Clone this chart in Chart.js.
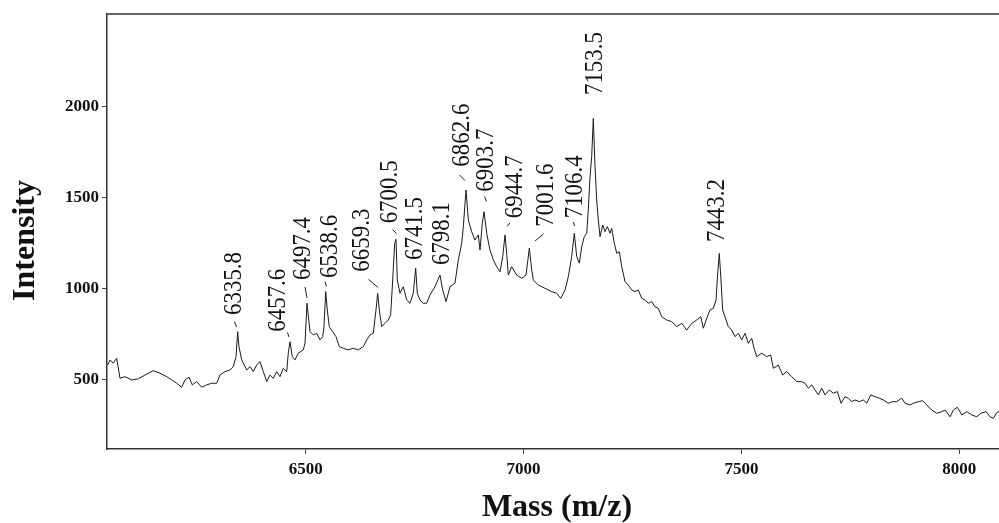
<!DOCTYPE html>
<html lang="en">
<head>
<meta charset="UTF-8">
<title>Mass spectrum</title>
<script src="https://cdn.jsdelivr.net/npm/chart.js"></script>
<style>
  body { margin: 0; background: #fff; }
  #wrap { width: 999px; height: 523px; position: relative; }
</style>
</head>
<body>
<div id="wrap"><canvas id="spectrum"></canvas></div>
<script>
// spectrum
const massValues = [
  6045.6, 6050.9, 6058.4, 6066.2, 6073.8, 6085.3, 6100.7, 6115.8, 6131.2, 6150.2,
  6165.6, 6181.0, 6192.5, 6203.9, 6215.4, 6223.0, 6232.2, 6239.7, 6249.8, 6261.3,
  6272.8, 6284.3, 6295.7, 6303.3, 6314.8, 6326.3, 6333.8, 6340.0, 6343.9, 6346.9,
  6353.1, 6364.6, 6372.2, 6379.7, 6387.5, 6395.1, 6402.7, 6410.5, 6418.0, 6425.6,
  6433.4, 6441.0, 6448.6, 6456.4, 6460.0, 6463.9, 6469.2, 6475.4, 6483.0, 6494.5,
  6498.4, 6503.0, 6509.9, 6517.4, 6525.2, 6532.8, 6539.0, 6542.0, 6545.9, 6549.6,
  6554.1, 6561.9, 6569.5, 6577.1, 6586.3, 6597.7, 6609.2, 6620.7, 6632.2, 6640.0,
  6647.6, 6655.1, 6661.3, 6665.2, 6668.9, 6674.4, 6682.0, 6689.5, 6695.0, 6699.6,
  6704.2, 6707.2, 6710.2, 6716.4, 6724.0, 6731.8, 6739.4, 6746.9, 6752.4, 6756.1,
  6762.3, 6769.9, 6777.6, 6785.2, 6796.7, 6808.2, 6814.4, 6822.0, 6831.2, 6842.6,
  6850.2, 6858.0, 6861.7, 6865.6, 6867.9, 6873.2, 6880.9, 6888.5, 6896.1, 6900.0,
  6905.3, 6909.2, 6915.4, 6922.9, 6930.5, 6938.3, 6945.9, 6952.1, 6957.4, 6961.2,
  6965.0, 6972.7, 6984.2, 6995.7, 7005.6, 7013.2, 7018.6, 7022.3, 7033.8, 7049.2,
  7064.5, 7076.0, 7085.2, 7095.1, 7102.7, 7110.4, 7116.4, 7121.9, 7127.9, 7133.4,
  7139.4, 7144.9, 7148.5, 7152.5, 7156.3, 7160.0, 7163.9, 7167.8, 7171.5, 7175.4,
  7181.6, 7186.9, 7192.2, 7198.4, 7202.2, 7207.5, 7213.7, 7219.7, 7225.2, 7232.8,
  7240.3, 7248.1, 7255.7, 7263.3, 7271.1, 7278.7, 7286.2, 7294.0, 7301.6, 7309.2,
  7317.0, 7328.5, 7340.0, 7351.4, 7362.9, 7374.4, 7385.9, 7397.3, 7406.5, 7412.5,
  7420.3, 7427.9, 7435.4, 7441.6, 7445.5, 7449.1, 7453.0, 7456.9, 7462.2, 7469.8,
  7477.6, 7485.2, 7492.8, 7500.6, 7508.2, 7515.7, 7523.5, 7528.8, 7535.0, 7546.5,
  7557.9, 7567.1, 7573.1, 7584.6, 7594.6, 7603.8, 7615.3, 7626.8, 7638.3, 7645.9,
  7653.4, 7661.2, 7668.8, 7676.4, 7684.2, 7691.8, 7701.6, 7710.8, 7720.0, 7728.5,
  7737.7, 7745.3, 7753.0, 7760.6, 7770.5, 7779.7, 7787.4, 7796.6, 7806.5, 7816.3,
  7825.6, 7837.0, 7847.1, 7856.3, 7867.8, 7875.4, 7886.9, 7894.4, 7905.9, 7916.0,
  7925.2, 7936.7, 7948.2, 7959.7, 7967.2, 7978.7, 7986.3, 7995.4, 8005.6, 8017.1,
  8028.5, 8040.0, 8049.2, 8061.3, 8070.5, 8078.1, 8085.9, 8091.1
];
const intensityValues = [
  582, 610, 592, 619, 509, 518, 500, 506, 527, 551,
  537, 518, 500, 482, 460, 500, 515, 473, 491, 460,
  473, 482, 482, 527, 546, 555, 573, 628, 765, 683,
  610, 555, 573, 546, 582, 601, 546, 491, 527, 509,
  546, 518, 564, 546, 647, 710, 628, 610, 647, 665,
  702, 921, 765, 747, 756, 720, 738, 793, 985, 884,
  793, 765, 738, 683, 674, 665, 674, 665, 683, 720,
  747, 756, 884, 976, 884, 793, 811, 829, 857, 1049,
  1250, 1272, 1049, 976, 1012, 939, 921, 976, 1113, 976,
  939, 921, 921, 967, 1012, 1076, 994, 930, 1012, 1031,
  1159, 1250, 1341, 1470, 1543, 1378, 1314, 1268, 1296, 1213,
  1360, 1424, 1305, 1213, 1159, 1122, 1094, 1177, 1296, 1195,
  1076, 1122, 1076, 1058, 1076, 1223, 1104, 1049, 1021, 1003,
  985, 976, 948, 994, 1067, 1177, 1305, 1177, 1141, 1232,
  1287, 1305, 1433, 1616, 1726, 1936, 1671, 1488, 1378, 1287,
  1351, 1314, 1342, 1305, 1333, 1259, 1195, 1204, 1122, 1040,
  1021, 994, 985, 994, 948, 939, 921, 930, 902, 893,
  847, 829, 820, 793, 811, 774, 811, 829, 847, 784,
  839, 884, 893, 939, 1086, 1195, 1049, 884, 847, 793,
  774, 738, 756, 720, 756, 701, 729, 674, 628, 647,
  628, 637, 564, 582, 527, 546, 518, 491, 491, 482,
  455, 473, 445, 418, 455, 418, 445, 427, 436, 372,
  408, 400, 381, 390, 381, 390, 372, 418, 408, 400,
  390, 372, 381, 381, 400, 372, 363, 372, 381, 386,
  363, 335, 317, 326, 335, 298, 335, 350, 308, 326,
  308, 298, 317, 326, 298, 290, 321, 326
];

const xTicks = [6500, 7000, 7500, 8000];
const yTicks = [500, 1000, 1500, 2000];

const peakLabels = ['6335.8', '6457.6', '6497.4', '6538.6', '6659.3', '6700.5', '6741.5', '6798.1',
  '6862.6', '6903.7', '6944.7', '7001.6', '7106.4', '7153.5', '7443.2'];
// apex of each labelled peak in the trace above
const peakMasses = [6343.9, 6463.9, 6503.0, 6545.9, 6665.2, 6707.2, 6752.4, 6808.2,
  6867.9, 6909.2, 6957.4, 7013.2, 7116.4, 7160.0, 7449.1];

// where each label sits relative to its apex (px): [dx, gap, leader x1,y1,x2,y2]
const labelLayout = [
  [-5.2, 16.7, [-1.2, -4.7, -3.2, -10.2]],
  [-13.5, 10, [-1, -4.7, -2.5, -9.2]],
  [-6, 23.3, [0, -5.3, -2, -16.3]],
  [2.3, 13.7, [0.8, -5.2, -0.7, -9.7]],
  [-17.7, 21.6, [0.3, -5.8, -9.2, -13.8]],
  [-8, 16, [0.5, -5.8, -3.5, -9.8]],
  [-2.4, 8.3, null],
  [0, 10, null],
  [-6, 23.3, [-1, -9.3, -6.5, -15]],
  [0, 20, [2.5, -10.2, 0.5, -15.2]],
  [7.5, 16.7, [2, -8.5, 5, -12]],
  [14.7, 21.6, [5.7, -7.3, 14.2, -14.3]],
  [-1.8, 15, [0.2, -7.3, -0.8, -11.3]],
  [-0.8, 23.3, null],
  [-3.8, 11.3, null]
];
const LABEL_LENGTH = 63; // px along the text, labels are drawn condensed

const SERIF = '"Liberation Serif", "Times New Roman", serif';

const points = massValues.map((m, i) => ({ x: m, y: intensityValues[i] }));

const decorations = {
  id: 'decorations',
  afterDraw(chart) {
    const { ctx, chartArea: area, scales: { x, y } } = chart;
    ctx.save();

    // top edge of the frame
    ctx.strokeStyle = '#333';
    ctx.lineWidth = 1.5;
    ctx.beginPath();
    ctx.moveTo(area.left, area.top);
    ctx.lineTo(area.right, area.top);
    ctx.stroke();

    // peak labels, tall and narrow, reading upwards
    ctx.fillStyle = '#111';
    ctx.strokeStyle = '#222';
    ctx.lineWidth = 1;
    ctx.font = '26px ' + SERIF;
    peakLabels.forEach((txt, i) => {
      const idx = massValues.indexOf(peakMasses[i]);
      const px = x.getPixelForValue(peakMasses[i]);
      const py = y.getPixelForValue(intensityValues[idx]);
      const [dx, gap, leader] = labelLayout[i];
      if (leader) {
        ctx.beginPath();
        ctx.moveTo(px + leader[0], py + leader[1]);
        ctx.lineTo(px + leader[2], py + leader[3]);
        ctx.stroke();
      }
      const w = ctx.measureText(txt).width;
      ctx.save();
      ctx.translate(px + dx + 9, py - gap);
      ctx.rotate(-Math.PI / 2);
      ctx.scale(LABEL_LENGTH / w, 1);
      ctx.textAlign = 'left';
      ctx.textBaseline = 'alphabetic';
      ctx.fillText(txt, 0, 0);
      ctx.restore();
    });

    // axis titles
    ctx.fillStyle = '#111';
    ctx.font = 'bold 32px ' + SERIF;
    ctx.save();
    ctx.translate(34, (area.top + area.bottom) / 2 + 9);
    ctx.rotate(-Math.PI / 2);
    ctx.textAlign = 'center';
    ctx.textBaseline = 'alphabetic';
    ctx.fillText('Intensity', 0, 0);
    ctx.restore();

    ctx.textAlign = 'center';
    ctx.textBaseline = 'alphabetic';
    ctx.fillText('Mass (m/z)', (area.left + area.right) / 2 + 4, 516);
    ctx.restore();
  }
};

new Chart(document.getElementById('spectrum'), {
  type: 'line',
  data: {
    datasets: [{
      data: points,
      borderColor: '#1a1a1a',
      borderWidth: 1,
      pointRadius: 0,
      tension: 0,
      fill: false
    }]
  },
  options: {
    responsive: true,
    maintainAspectRatio: false,
    animation: false,
    layout: { padding: { top: 14, right: 0, left: 0, bottom: 0 } },
    plugins: { legend: { display: false }, tooltip: { enabled: false } },
    scales: {
      x: {
        type: 'linear',
        min: 6044,
        max: 8091,
        afterFit: s => { s.height = 74; },
        afterBuildTicks: s => { s.ticks = xTicks.map(v => ({ value: v })); },
        grid: { drawOnChartArea: false, drawTicks: true, tickLength: 5, color: '#444' },
        border: { color: '#333', width: 1.5 },
        ticks: {
          color: '#111',
          padding: 5,
          maxRotation: 0,
          font: { family: SERIF, size: 17, weight: 'bold' },
          callback: v => String(v)
        }
      },
      y: {
        type: 'linear',
        min: 121,
        max: 2509,
        afterFit: s => { s.width = 107; },
        afterBuildTicks: s => { s.ticks = yTicks.map(v => ({ value: v })); },
        grid: { drawOnChartArea: false, drawTicks: true, tickLength: 5, color: '#444' },
        border: { color: '#333', width: 1.5 },
        ticks: {
          color: '#111',
          padding: 3,
          font: { family: SERIF, size: 17, weight: 'bold' },
          callback: v => String(v)
        }
      }
    }
  },
  plugins: [decorations]
});
</script>
</body>
</html>
